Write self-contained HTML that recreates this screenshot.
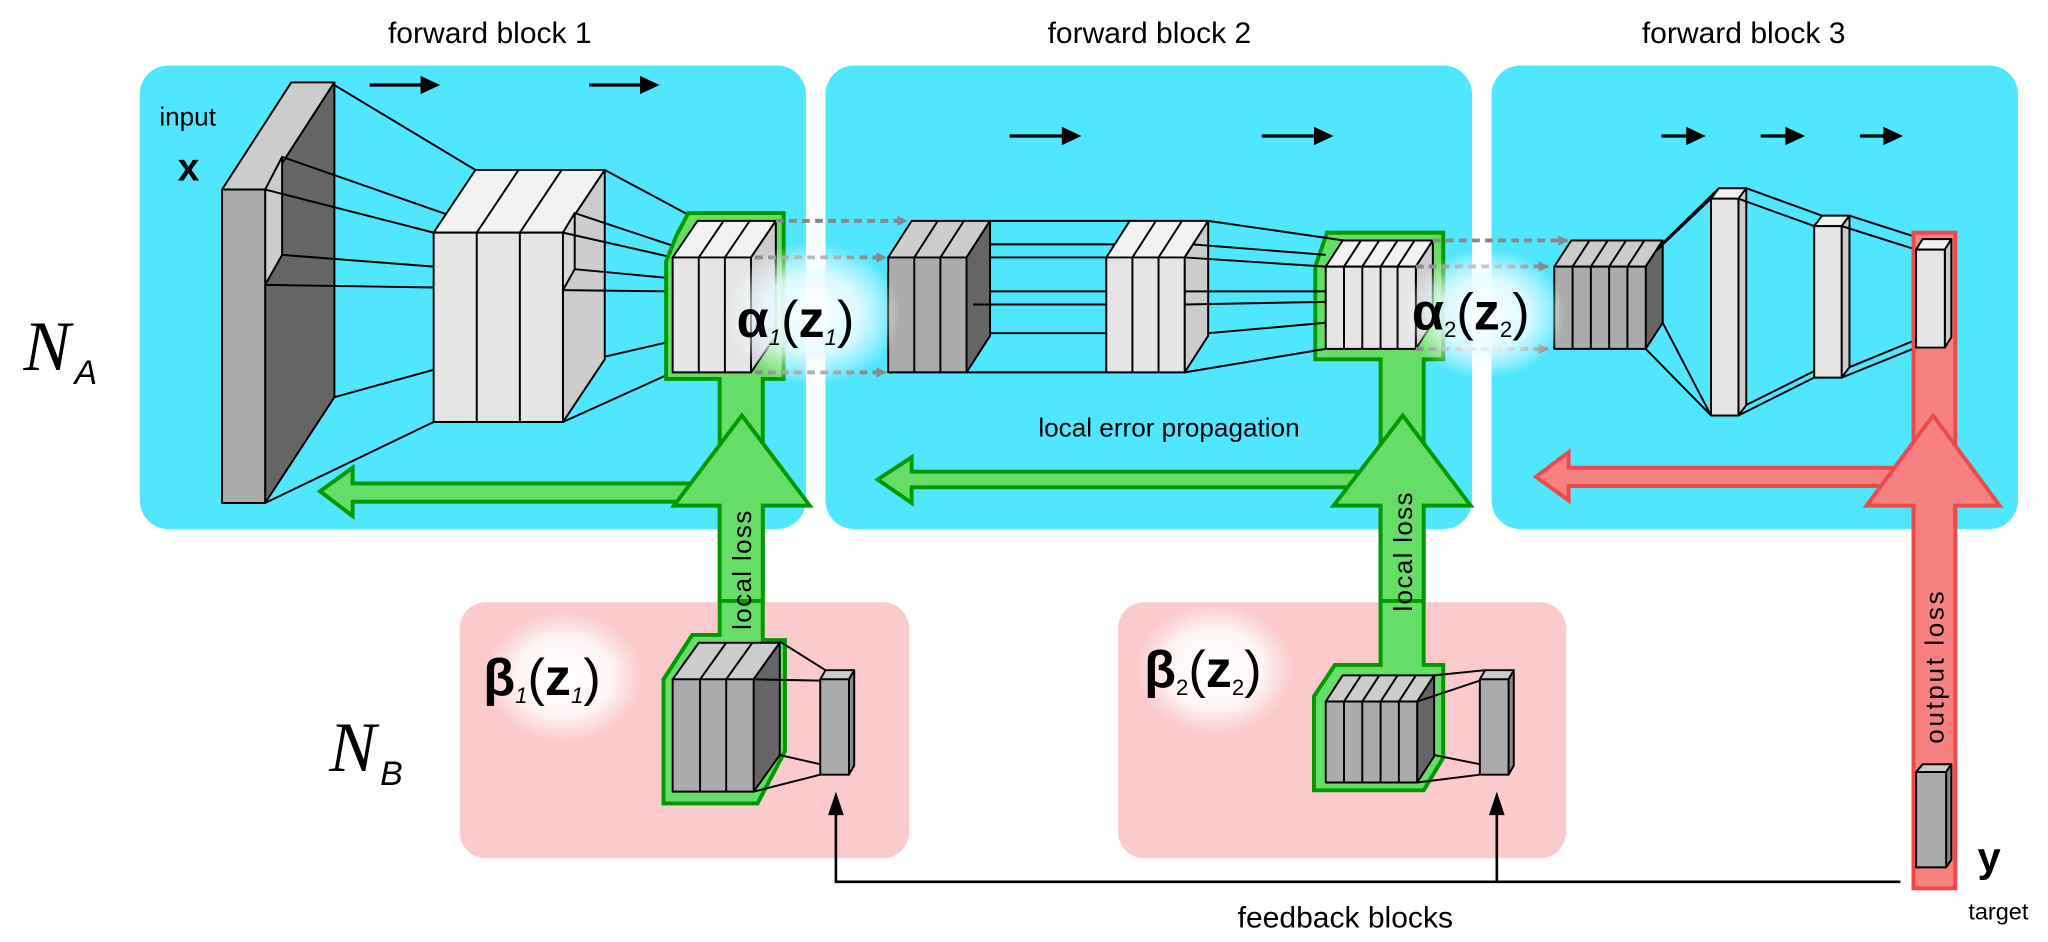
<!DOCTYPE html>
<html><head><meta charset="utf-8"><style>
html,body{margin:0;padding:0;background:#fff;width:2048px;height:942px;overflow:hidden}
svg{display:block}
text{font-family:"Liberation Sans",sans-serif}
</style></head><body>
<svg width="2048" height="942" viewBox="0 0 1568 721" xmlns="http://www.w3.org/2000/svg">
<defs>
<radialGradient id="gl"><stop offset="0" stop-color="#fff" stop-opacity="1"/><stop offset="0.55" stop-color="#e8fbff" stop-opacity="0.9"/><stop offset="1" stop-color="#fff" stop-opacity="0"/></radialGradient>
<radialGradient id="gp"><stop offset="0" stop-color="#fff" stop-opacity="1"/><stop offset="0.6" stop-color="#fff" stop-opacity="0.8"/><stop offset="1" stop-color="#fff" stop-opacity="0"/></radialGradient>
<marker id="ga" markerWidth="8" markerHeight="8" refX="7" refY="4" orient="auto" markerUnits="userSpaceOnUse"><path d="M0,0 L8,4 L0,8 Z" fill="#888"/></marker>
</defs>
<text x="375" y="33" font-size="23" text-anchor="middle">forward block 1</text>
<text x="880" y="33" font-size="23" text-anchor="middle">forward block 2</text>
<text x="1335" y="33" font-size="23" text-anchor="middle">forward block 3</text>
<rect x="107" y="50" width="510" height="355" rx="22" fill="#50E6FE"/>
<rect x="632" y="50" width="495" height="355" rx="22" fill="#50E6FE"/>
<rect x="1142" y="50" width="403" height="355" rx="22" fill="#50E6FE"/>
<rect x="352" y="461" width="344" height="196" rx="20" fill="#FBCACC"/>
<rect x="856" y="461" width="343" height="196" rx="20" fill="#FBCACC"/>
<text x="18" y="283" font-size="54" style="font-family:'Liberation Serif',serif;font-style:italic">N</text>
<text x="57" y="294" font-size="26" font-style="italic">A</text>
<text x="252" y="590" font-size="54" style="font-family:'Liberation Serif',serif;font-style:italic">N</text>
<text x="291" y="601" font-size="26" font-style="italic">B</text>
<text x="122" y="96" font-size="20">input</text>
<text x="136" y="138" font-size="30" font-weight="bold">x</text>
<g stroke="#000" stroke-width="2.5" fill="#000">
<line x1="283" y1="65" x2="325" y2="65"/><path d="M322,58 L337,65 L322,72Z" stroke="none"/>
<line x1="451" y1="65" x2="493" y2="65"/><path d="M490,58 L505,65 L490,72Z" stroke="none"/>
<line x1="773" y1="104" x2="816" y2="104"/><path d="M813,97 L828,104 L813,111Z" stroke="none"/>
<line x1="966" y1="104" x2="1009" y2="104"/><path d="M1006,97 L1021,104 L1006,111Z" stroke="none"/>
<line x1="1272" y1="104" x2="1294" y2="104"/><path d="M1291,97 L1306,104 L1291,111Z" stroke="none"/>
<line x1="1348" y1="104" x2="1370" y2="104"/><path d="M1367,97 L1382,104 L1367,111Z" stroke="none"/>
<line x1="1424" y1="104" x2="1445" y2="104"/><path d="M1442,97 L1457,104 L1442,111Z" stroke="none"/>
</g>
<g stroke="#000" stroke-width="1.5" stroke-linejoin="round">
<polygon points="170,145 223,63 256,63 203,145" fill="#ccc"/>
<polygon points="203,145 256,63 256,304 203,385" fill="#666"/>
<polygon points="203,145 216,120 216,195 203,218" fill="#ccc"/>
<rect x="170" y="145" width="33" height="240" fill="#ababab"/>
<line x1="256" y1="65" x2="364" y2="130"/><line x1="216" y1="120" x2="342" y2="164"/>
<line x1="203" y1="145" x2="332" y2="178"/><line x1="216" y1="195" x2="332" y2="204"/>
<line x1="203" y1="218" x2="332" y2="220"/><line x1="256" y1="304" x2="332" y2="283"/>
<line x1="203" y1="385" x2="332" y2="323"/>
<polygon points="332,178 364,130 463,130 431,178" fill="#f2f2f2"/>
<line x1="365" y1="178" x2="397" y2="130"/><line x1="398" y1="178" x2="430" y2="130"/>
<polygon points="431,178 463,130 463,275 431,323" fill="#ccc"/>
<polyline points="431,178 440,163 440,206 431,222" fill="#d8d8d8"/>
<rect x="332" y="178" width="99" height="145" fill="#e5e5e5"/>
<line x1="365" y1="178" x2="365" y2="323"/><line x1="398" y1="178" x2="398" y2="323"/>
<line x1="463" y1="130" x2="532" y2="167"/><line x1="440" y1="163" x2="515" y2="188"/>
<line x1="431" y1="178" x2="515" y2="197"/><line x1="440" y1="206" x2="515" y2="213"/>
<line x1="431" y1="222" x2="515" y2="223"/><line x1="463" y1="273" x2="515" y2="261"/>
<line x1="431" y1="323" x2="515" y2="285"/>
</g>
<polygon points="510,290 510,200 518,180 527,163 600,163 600,290 584,290 584,490 601,490 601,575 580,615 508,615 508,520 530,486 551,486 551,290" fill="#66DD66" stroke="#009900" stroke-width="3"/>
<polygon points="1007,275 1007,204 1016,178 1105,178 1105,275 1090,275 1090,509 1105,509 1105,580 1090,605 1006,605 1006,533 1022,509 1057,509 1057,275" fill="#66DD66" stroke="#009900" stroke-width="3"/>
<g stroke="#000" stroke-width="1.5" stroke-linejoin="round">
<polygon points="515,197 534,169 594,169 575,197" fill="#f2f2f2"/>
<line x1="535" y1="197" x2="554" y2="169"/><line x1="555" y1="197" x2="574" y2="169"/>
<polygon points="575,197 594,169 594,257 575,285" fill="#ccc"/>
<rect x="515" y="197" width="60" height="88" fill="#e5e5e5"/>
<line x1="535" y1="197" x2="535" y2="285"/><line x1="555" y1="197" x2="555" y2="285"/>
<polygon points="680,197 698,169 758,169 740,197" fill="#ccc"/>
<line x1="700" y1="197" x2="718" y2="169"/><line x1="720" y1="197" x2="738" y2="169"/>
<polygon points="740,197 758,169 758,257 740,285" fill="#666"/>
<rect x="680" y="197" width="60" height="88" fill="#ababab"/>
<line x1="700" y1="197" x2="700" y2="285"/><line x1="720" y1="197" x2="720" y2="285"/>
<line x1="758" y1="169" x2="865" y2="169"/><line x1="758" y1="187" x2="913" y2="187"/>
<line x1="758" y1="197" x2="847" y2="197"/><line x1="758" y1="223" x2="847" y2="223"/>
<line x1="745" y1="233" x2="847" y2="233"/><line x1="758" y1="255" x2="847" y2="255"/>
<line x1="740" y1="285" x2="847" y2="285"/>
<polygon points="847,197 865,169 925,169 907,197" fill="#f2f2f2"/>
<line x1="867" y1="197" x2="885" y2="169"/><line x1="887" y1="197" x2="905" y2="169"/>
<polygon points="907,197 925,169 925,257 907,285" fill="#ccc"/>
<rect x="847" y="197" width="60" height="88" fill="#e5e5e5"/>
<line x1="867" y1="197" x2="867" y2="285"/><line x1="887" y1="197" x2="887" y2="285"/>
<line x1="925" y1="169" x2="1029" y2="184"/><line x1="913" y1="187" x2="1015" y2="195"/>
<line x1="907" y1="197" x2="1015" y2="204"/><line x1="907" y1="223" x2="1015" y2="223"/>
<line x1="907" y1="233" x2="1015" y2="231"/><line x1="925" y1="255" x2="1015" y2="247"/>
<line x1="907" y1="285" x2="1015" y2="267"/>
<polygon points="1015,204 1028,184 1097,184 1084,204" fill="#f2f2f2"/>
<polygon points="1084,204 1097,184 1097,247 1084,267" fill="#ccc"/>
<rect x="1015" y="204" width="69" height="63" fill="#e5e5e5"/>
<path d="M1029,204V267M1043,204V267M1057,204V267M1070,204V267M1029,204L1042,184M1043,204L1056,184M1057,204L1070,184M1070,204L1083,184" fill="none"/>
<polygon points="1190,204 1203,184 1273,184 1260,204" fill="#ccc"/>
<polygon points="1260,204 1273,184 1273,247 1260,267" fill="#666"/>
<rect x="1190" y="204" width="70" height="63" fill="#ababab"/>
<path d="M1204,204V267M1218,204V267M1232,204V267M1246,204V267M1204,204L1217,184M1218,204L1231,184M1232,204L1245,184M1246,204L1259,184" fill="none"/>
<line x1="1273" y1="186" x2="1316" y2="144"/><line x1="1268" y1="192" x2="1310" y2="152"/>
<line x1="1273" y1="247" x2="1310" y2="318"/><line x1="1260" y1="267" x2="1310" y2="318"/>
<polygon points="1310,152 1316,144 1337,144 1331,152" fill="#f2f2f2"/>
<polygon points="1331,152 1337,144 1337,310 1331,318" fill="#ccc"/>
<rect x="1310" y="152" width="21" height="166" fill="#e5e5e5"/>
<line x1="1337" y1="144" x2="1395" y2="165"/><line x1="1331" y1="152" x2="1389" y2="173"/>
<line x1="1337" y1="310" x2="1395" y2="281"/><line x1="1331" y1="318" x2="1389" y2="289"/>
<polygon points="1389,173 1395,165 1416,165 1410,173" fill="#f2f2f2"/>
<polygon points="1410,173 1416,165 1416,281 1410,289" fill="#ccc"/>
<rect x="1389" y="173" width="21" height="116" fill="#e5e5e5"/>
<line x1="1416" y1="165" x2="1472" y2="183"/><line x1="1410" y1="173" x2="1467" y2="191"/>
<line x1="1416" y1="281" x2="1472" y2="258"/><line x1="1410" y1="289" x2="1467" y2="266"/>
</g>
<path d="M1465,178 H1497 V675 L1493,680 H1465 Z" fill="#F78080" stroke="#EE4A4A" stroke-width="3"/>
<g stroke="#000" stroke-width="1.5" stroke-linejoin="round">
<polygon points="1467,191 1472,183 1494,183 1489,191" fill="#f2f2f2"/>
<polygon points="1489,191 1494,183 1494,258 1489,266" fill="#ccc"/>
<rect x="1467" y="191" width="22" height="75" fill="#e5e5e5"/>
</g>
<polygon points="1465,358 1201,358 1201,346 1176,365 1201,383 1201,372 1465,372" fill="#F78080" stroke="#EE4A4A" stroke-width="3"/>
<polygon points="1465,680 1465,387 1429,387 1480,318 1531,387 1497,387 1497,680" fill="#F78080" stroke="#EE4A4A" stroke-width="3"/>
<text transform="translate(1488,510) rotate(-90)" font-size="20" text-anchor="middle" letter-spacing="2">output loss</text>
<polygon points="551,370 270,370 270,358 245,376 270,395 270,384 551,384" fill="#66DD66" stroke="#009900" stroke-width="3"/>
<polygon points="551,460 551,387 516,387 568,318 620,387 584,387 584,460" fill="#66DD66" stroke="#009900" stroke-width="3"/>
<polygon points="1057,361 698,361 698,350 672,367 698,385 698,373 1057,373" fill="#66DD66" stroke="#009900" stroke-width="3"/>
<polygon points="1057,460 1057,387 1021,387 1074,318 1126,387 1090,387 1090,460" fill="#66DD66" stroke="#009900" stroke-width="3"/>
<text transform="translate(575,436) rotate(-90)" font-size="20" text-anchor="middle" letter-spacing="1">local loss</text>
<text transform="translate(1081,422) rotate(-90)" font-size="20" text-anchor="middle" letter-spacing="1">local loss</text>
<text x="895" y="334" font-size="20" text-anchor="middle">local error propagation</text>
<g stroke="#888" stroke-width="3" stroke-dasharray="6,4" marker-end="url(#ga)">
<line x1="594" y1="169" x2="694" y2="169"/>
<line x1="578" y1="197" x2="678" y2="197"/>
<line x1="578" y1="285" x2="678" y2="285"/>
<line x1="1097" y1="184" x2="1200" y2="184"/>
<line x1="1084" y1="204" x2="1185" y2="204"/>
<line x1="1084" y1="267" x2="1185" y2="267"/>
</g>
<ellipse cx="622" cy="240" rx="68" ry="55" fill="url(#gl)"/>
<ellipse cx="1137" cy="240" rx="62" ry="50" fill="url(#gl)"/>
<text x="564" y="258" font-size="40" font-weight="bold">α<tspan font-size="17" font-weight="normal" font-style="italic" dy="6">1</tspan><tspan dy="-6" font-weight="normal">(</tspan>z<tspan font-size="17" font-weight="normal" font-style="italic" dy="6">1</tspan><tspan dy="-6" font-weight="normal">)</tspan></text>
<text x="1081" y="252" font-size="40" font-weight="bold">α<tspan font-size="17" font-weight="normal" dy="6">2</tspan><tspan dy="-6" font-weight="normal">(</tspan>z<tspan font-size="17" font-weight="normal" dy="6">2</tspan><tspan dy="-6" font-weight="normal">)</tspan></text>
<ellipse cx="432" cy="518" rx="60" ry="50" fill="url(#gp)"/>
<ellipse cx="930" cy="512" rx="60" ry="50" fill="url(#gp)"/>
<text x="370" y="532" font-size="40" font-weight="bold">β<tspan font-size="17" font-weight="normal" font-style="italic" dy="6">1</tspan><tspan dy="-6" font-weight="normal">(</tspan>z<tspan font-size="17" font-weight="normal" font-style="italic" dy="6">1</tspan><tspan dy="-6" font-weight="normal">)</tspan></text>
<text x="876" y="526" font-size="40" font-weight="bold">β<tspan font-size="17" font-weight="normal" dy="6">2</tspan><tspan dy="-6" font-weight="normal">(</tspan>z<tspan font-size="17" font-weight="normal" dy="6">2</tspan><tspan dy="-6" font-weight="normal">)</tspan></text>
<g stroke="#000" stroke-width="1.5" stroke-linejoin="round">
<polygon points="515,520 535,492 597,492 577,520" fill="#ccc"/>
<line x1="536" y1="520" x2="556" y2="492"/><line x1="556" y1="520" x2="576" y2="492"/>
<polygon points="577,520 597,492 597,578 577,606" fill="#666"/>
<rect x="515" y="520" width="62" height="86" fill="#ababab"/>
<line x1="536" y1="520" x2="536" y2="606"/><line x1="556" y1="520" x2="556" y2="606"/>
<line x1="597" y1="491" x2="632" y2="513"/><line x1="577" y1="520" x2="628" y2="521"/>
<line x1="597" y1="578" x2="628" y2="585"/><line x1="577" y1="606" x2="628" y2="593"/>
<polygon points="628,520 632,513 654,513 650,520" fill="#ccc"/>
<polygon points="650,520 654,513 654,586 650,593" fill="#888"/>
<rect x="628" y="520" width="22" height="73" fill="#ababab"/>
<polygon points="1015,537 1028,517 1098,517 1085,537" fill="#ccc"/>
<polygon points="1085,537 1098,517 1098,579 1085,599" fill="#666"/>
<rect x="1015" y="537" width="70" height="62" fill="#ababab"/>
<path d="M1029,537V599M1043,537V599M1057,537V599M1071,537V599M1029,537L1042,517M1043,537L1056,517M1057,537L1070,517M1071,537L1084,517" fill="none"/>
<line x1="1098" y1="517" x2="1137" y2="513"/><line x1="1085" y1="537" x2="1133" y2="521"/>
<line x1="1098" y1="578" x2="1133" y2="585"/><line x1="1085" y1="599" x2="1133" y2="593"/>
<polygon points="1133,520 1137,513 1159,513 1155,520" fill="#ccc"/>
<polygon points="1155,520 1159,513 1159,586 1155,593" fill="#888"/>
<rect x="1133" y="520" width="22" height="73" fill="#ababab"/>
<polygon points="1467,591 1472,585 1494,585 1490,591" fill="#ccc"/>
<polygon points="1490,591 1494,585 1494,658 1490,664" fill="#888"/>
<rect x="1467" y="591" width="23" height="73" fill="#ababab"/>
</g>
<g stroke="#000" stroke-width="2" fill="none">
<polyline points="1455,675 640,675 640,618"/>
<line x1="1146" y1="675" x2="1146" y2="618"/>
</g>
<path d="M634,624 L640,606 L646,624 Z M1140,624 L1146,606 L1152,624 Z" fill="#000"/>
<text x="1514" y="667" font-size="32" font-weight="bold">y</text>
<text x="1530" y="704" font-size="18" text-anchor="middle">target</text>
<text x="1030" y="710" font-size="23" text-anchor="middle">feedback blocks</text>
</svg>
</body></html>
